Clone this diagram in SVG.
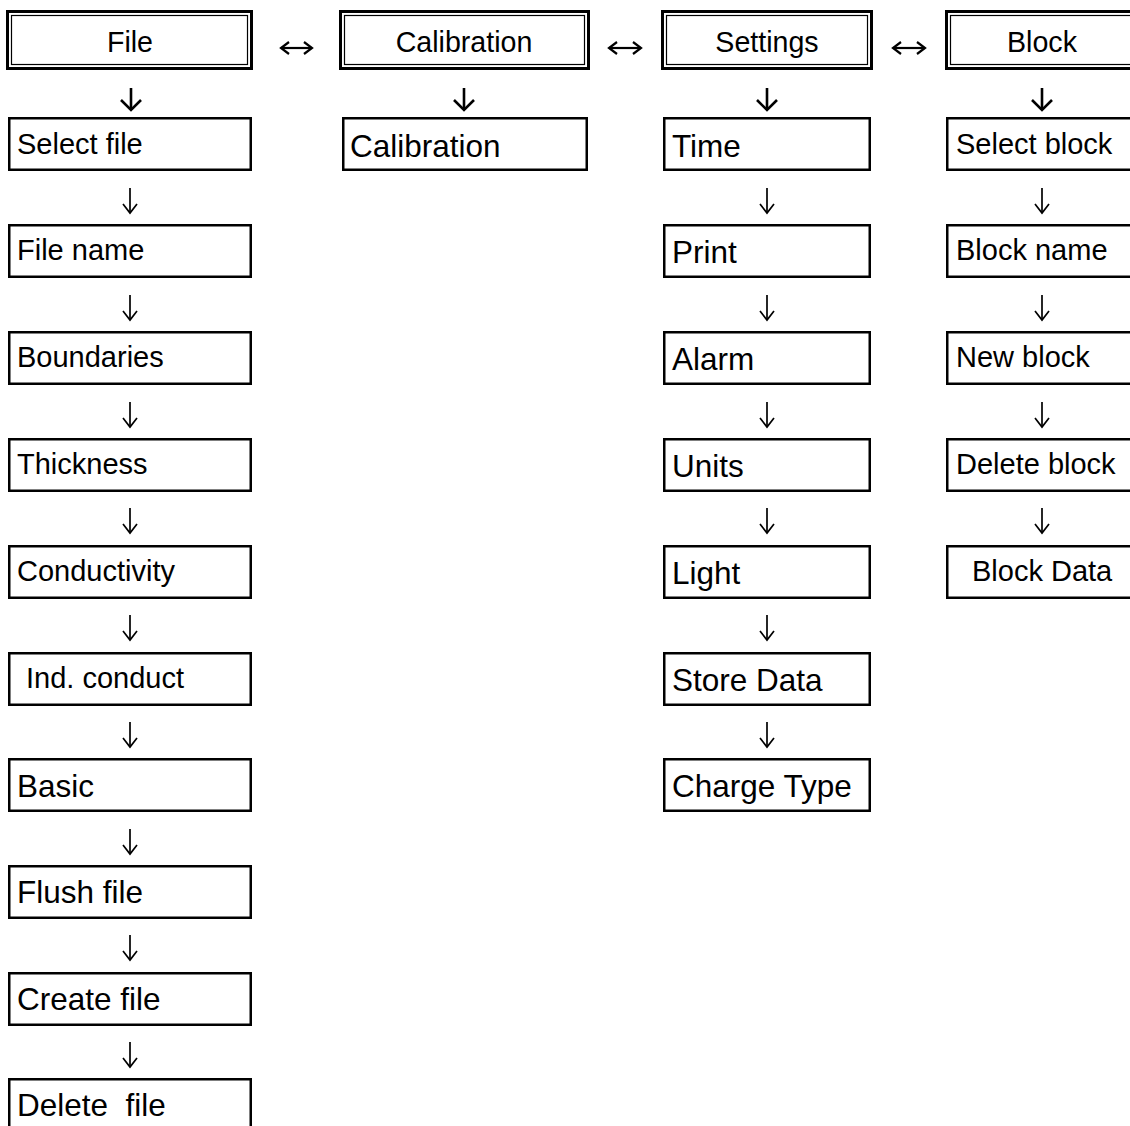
<svg xmlns="http://www.w3.org/2000/svg" width="1130" height="1126" viewBox="0 0 1130 1126">
  <defs>
    <style>
      .hdr-o { fill: #fff; stroke: #000; stroke-width: 3; }
      .hdr-i { fill: none; stroke: #000; stroke-width: 1.2; }
      .box { fill: #fff; stroke: #000; stroke-width: 2.5; }
      text { font-family: "Liberation Sans", Arial, sans-serif; fill: #000; }
      .hdr-t { font-size: 28.6px; text-anchor: middle; }
      .sm { font-size: 29px; }
      .lg { font-size: 31.5px; }
      .down { fill: none; stroke: #000; stroke-width: 1.7; }
      .down-b { fill: none; stroke: #000; stroke-width: 2.6; }
      .lr { fill: none; stroke: #000; stroke-width: 2.2; }
    </style>
    <marker id="head" markerUnits="userSpaceOnUse" orient="auto" refX="0" refY="0" overflow="visible">
      <path d="M -9 -7 L 0 0 L -9 7" fill="none" stroke="#000" stroke-width="1.7"/>
    </marker>
    <marker id="head-b" markerUnits="userSpaceOnUse" orient="auto" refX="0" refY="0" overflow="visible">
      <path d="M -10 -10 L 0 0 L -10 10" fill="none" stroke="#000" stroke-width="2.6"/>
    </marker>
    <marker id="head-lr" markerUnits="userSpaceOnUse" orient="auto-start-reverse" refX="0" refY="0" overflow="visible">
      <path d="M -8 -6 L 0 0 L -8 6" fill="none" stroke="#000" stroke-width="2.2"/>
    </marker>
  </defs>

  <rect width="1130" height="1126" fill="#fff"/>

  <!-- menu headers -->
  <g id="hdr-file">
    <rect class="hdr-o" x="7.5" y="11.5" width="244" height="57"/>
    <rect class="hdr-i" x="11.5" y="15.5" width="236" height="49"/>
    <text class="hdr-t" x="130" y="52">File</text>
  </g>
  <g id="hdr-calibration">
    <rect class="hdr-o" x="340.5" y="11.5" width="248" height="57"/>
    <rect class="hdr-i" x="344.5" y="15.5" width="240" height="49"/>
    <text class="hdr-t" x="464" y="52">Calibration</text>
  </g>
  <g id="hdr-settings">
    <rect class="hdr-o" x="662.5" y="11.5" width="209" height="57"/>
    <rect class="hdr-i" x="666.5" y="15.5" width="201" height="49"/>
    <text class="hdr-t" x="767" y="52">Settings</text>
  </g>
  <g id="hdr-block">
    <rect class="hdr-o" x="946.5" y="11.5" width="193" height="57"/>
    <rect class="hdr-i" x="950.5" y="15.5" width="185" height="49"/>
    <text class="hdr-t" x="1042" y="52">Block</text>
  </g>

  <!-- File menu -->
  <g id="file-select">
    <rect class="box" x="9.25" y="118.25" width="241.5" height="51.5"/>
    <text class="sm" x="17" y="154">Select file</text>
  </g>
  <g id="file-name">
    <rect class="box" x="9.25" y="225.25" width="241.5" height="51.5"/>
    <text class="sm" x="17" y="260">File name</text>
  </g>
  <g id="file-boundaries">
    <rect class="box" x="9.25" y="332.25" width="241.5" height="51.5"/>
    <text class="sm" x="17" y="367">Boundaries</text>
  </g>
  <g id="file-thickness">
    <rect class="box" x="9.25" y="439.25" width="241.5" height="51.5"/>
    <text class="sm" x="17" y="474">Thickness</text>
  </g>
  <g id="file-conductivity">
    <rect class="box" x="9.25" y="546.25" width="241.5" height="51.5"/>
    <text class="sm" x="17" y="581">Conductivity</text>
  </g>
  <g id="file-ind-conduct">
    <rect class="box" x="9.25" y="653.25" width="241.5" height="51.5"/>
    <text class="sm" x="26" y="688">Ind. conduct</text>
  </g>
  <g id="file-basic">
    <rect class="box" x="9.25" y="759.25" width="241.5" height="51.5"/>
    <text class="lg" x="17" y="797">Basic</text>
  </g>
  <g id="file-flush">
    <rect class="box" x="9.25" y="866.25" width="241.5" height="51.5"/>
    <text class="lg" x="17" y="903">Flush file</text>
  </g>
  <g id="file-create">
    <rect class="box" x="9.25" y="973.25" width="241.5" height="51.5"/>
    <text class="lg" x="17" y="1010">Create file</text>
  </g>
  <g id="file-delete">
    <rect class="box" x="9.25" y="1079.25" width="241.5" height="51.5"/>
    <text class="lg" x="17" y="1116" xml:space="preserve">Delete  file</text>
  </g>

  <!-- Calibration menu -->
  <g id="cal-calibration">
    <rect class="box" x="343.25" y="118.25" width="243.5" height="51.5"/>
    <text class="lg" x="350" y="157">Calibration</text>
  </g>

  <!-- Settings menu -->
  <g id="set-time">
    <rect class="box" x="664.25" y="118.25" width="205.5" height="51.5"/>
    <text class="lg" x="672" y="157">Time</text>
  </g>
  <g id="set-print">
    <rect class="box" x="664.25" y="225.25" width="205.5" height="51.5"/>
    <text class="lg" x="672" y="263">Print</text>
  </g>
  <g id="set-alarm">
    <rect class="box" x="664.25" y="332.25" width="205.5" height="51.5"/>
    <text class="lg" x="672" y="370">Alarm</text>
  </g>
  <g id="set-units">
    <rect class="box" x="664.25" y="439.25" width="205.5" height="51.5"/>
    <text class="lg" x="672" y="477">Units</text>
  </g>
  <g id="set-light">
    <rect class="box" x="664.25" y="546.25" width="205.5" height="51.5"/>
    <text class="lg" x="672" y="584">Light</text>
  </g>
  <g id="set-store-data">
    <rect class="box" x="664.25" y="653.25" width="205.5" height="51.5"/>
    <text class="lg" x="672" y="691">Store Data</text>
  </g>
  <g id="set-charge-type">
    <rect class="box" x="664.25" y="759.25" width="205.5" height="51.5"/>
    <text class="lg" x="672" y="797">Charge Type</text>
  </g>

  <!-- Block menu -->
  <g id="blk-select">
    <rect class="box" x="947.25" y="118.25" width="200" height="51.5"/>
    <text class="sm" x="956" y="154">Select block</text>
  </g>
  <g id="blk-name">
    <rect class="box" x="947.25" y="225.25" width="200" height="51.5"/>
    <text class="sm" x="956" y="260">Block name</text>
  </g>
  <g id="blk-new">
    <rect class="box" x="947.25" y="332.25" width="200" height="51.5"/>
    <text class="sm" x="956" y="367">New block</text>
  </g>
  <g id="blk-delete">
    <rect class="box" x="947.25" y="439.25" width="200" height="51.5"/>
    <text class="sm" x="956" y="474">Delete block</text>
  </g>
  <g id="blk-data">
    <rect class="box" x="947.25" y="546.25" width="200" height="51.5"/>
    <text class="sm" x="972" y="581">Block Data</text>
  </g>

  <!-- connectors -->
  <g id="connectors">
    <!-- header links -->
    <path class="lr" d="M 281 48 H 312" marker-start="url(#head-lr)" marker-end="url(#head-lr)"/>
    <path class="lr" d="M 609 48 H 641" marker-start="url(#head-lr)" marker-end="url(#head-lr)"/>
    <path class="lr" d="M 893 48 H 925" marker-start="url(#head-lr)" marker-end="url(#head-lr)"/>

    <!-- header to first entry -->
    <path class="down-b" d="M 131 88 V 110" marker-end="url(#head-b)"/>
    <path class="down-b" d="M 464 88 V 110" marker-end="url(#head-b)"/>
    <path class="down-b" d="M 767 88 V 110" marker-end="url(#head-b)"/>
    <path class="down-b" d="M 1042 88 V 110" marker-end="url(#head-b)"/>

    <!-- File column -->
    <path class="down" d="M 130 188 V 213" marker-end="url(#head)"/>
    <path class="down" d="M 130 295 V 320" marker-end="url(#head)"/>
    <path class="down" d="M 130 402 V 427" marker-end="url(#head)"/>
    <path class="down" d="M 130 508 V 533" marker-end="url(#head)"/>
    <path class="down" d="M 130 615 V 640" marker-end="url(#head)"/>
    <path class="down" d="M 130 722 V 747" marker-end="url(#head)"/>
    <path class="down" d="M 130 829 V 854" marker-end="url(#head)"/>
    <path class="down" d="M 130 935 V 960" marker-end="url(#head)"/>
    <path class="down" d="M 130 1042 V 1067" marker-end="url(#head)"/>

    <!-- Settings column -->
    <path class="down" d="M 767 188 V 213" marker-end="url(#head)"/>
    <path class="down" d="M 767 295 V 320" marker-end="url(#head)"/>
    <path class="down" d="M 767 402 V 427" marker-end="url(#head)"/>
    <path class="down" d="M 767 508 V 533" marker-end="url(#head)"/>
    <path class="down" d="M 767 615 V 640" marker-end="url(#head)"/>
    <path class="down" d="M 767 722 V 747" marker-end="url(#head)"/>

    <!-- Block column -->
    <path class="down" d="M 1042 188 V 213" marker-end="url(#head)"/>
    <path class="down" d="M 1042 295 V 320" marker-end="url(#head)"/>
    <path class="down" d="M 1042 402 V 427" marker-end="url(#head)"/>
    <path class="down" d="M 1042 508 V 533" marker-end="url(#head)"/>
  </g>
</svg>
